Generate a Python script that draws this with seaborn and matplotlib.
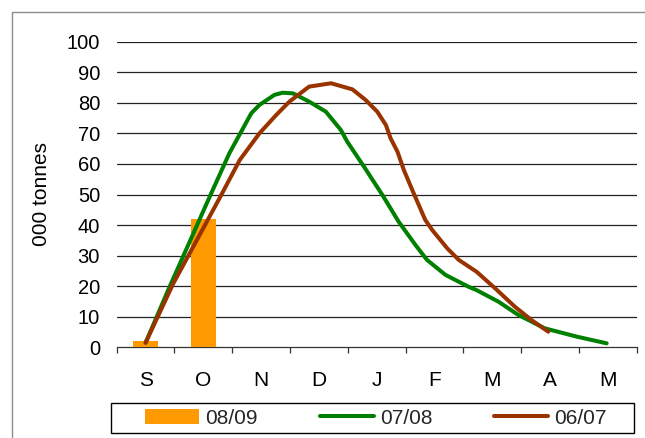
import matplotlib
matplotlib.use("Agg")
import matplotlib.pyplot as plt
import seaborn as sns
import pandas as pd
from matplotlib.patches import Patch, Rectangle
from matplotlib.lines import Line2D

# ---------------- data ----------------
months = ["S", "O", "N", "D", "J", "F", "M", "A", "M "]
month_labels = ["S", "O", "N", "D", "J", "F", "M", "A", "M"]

bar_months = ["S", "O"]
bar_values = [2, 42]          # 08/09

# 07/08 (position in months from S, value)
green_x = [0.0, 0.39, 1.11, 1.45, 1.83, 1.97, 2.23, 2.37, 2.55, 2.83, 3.12, 3.38, 3.49,
           3.78, 4.10, 4.38, 4.67, 4.87, 5.19, 5.59, 5.73, 6.11, 6.45, 6.91, 7.46, 7.98]
green_y = [1.5, 18.7, 49.3, 63.5, 76.6, 79.3, 82.6, 83.3, 83.1, 80.4, 77.1, 71.1, 67.3,
           59.1, 49.8, 41.1, 33.5, 28.6, 23.7, 19.8, 18.7, 14.9, 10.6, 6.2, 3.5, 1.3]

# 06/07
brown_x = [0.0, 0.48, 1.28, 1.63, 1.97, 2.26, 2.49, 2.83, 3.21, 3.58, 3.81, 4.01, 4.16,
           4.24, 4.36, 4.47, 4.64, 4.84, 4.96, 5.22, 5.42, 5.73, 6.05, 6.39, 6.68, 6.97]
brown_y = [1.5, 20.9, 48.8, 61.3, 70.0, 76.0, 80.4, 85.3, 86.4, 84.4, 80.9, 77.1, 72.7,
           68.4, 64.0, 58.0, 50.4, 41.7, 38.4, 32.4, 28.6, 24.7, 19.3, 13.3, 8.9, 5.1]

series_labels = ["08/09", "07/08", "06/07"]
c_bar, c_green, c_brown = "#FF9900", "#008000", "#993300"

# ---------------- figure ----------------
sns.set_theme(style="white")
plt.rcParams["font.family"] = ["Liberation Sans", "DejaVu Sans"]

fig = plt.figure(figsize=(6.45, 4.38), dpi=100)
ax = fig.add_axes([116.7 / 645, 90.7 / 438, 520 / 645, 305.6 / 438])

bar_df = pd.DataFrame({"month": bar_months, "value": bar_values})
sns.barplot(data=bar_df, x="month", y="value", order=months, color=c_bar,
            saturation=1, width=0.43, ax=ax, zorder=3)
for p in ax.patches:
    p.set_edgecolor("none")

sns.lineplot(x=green_x, y=green_y, color=c_green, lw=2.9, ax=ax, zorder=4)
sns.lineplot(x=brown_x, y=brown_y, color=c_brown, lw=2.9, ax=ax, zorder=5)
for ln in ax.lines:
    ln.set_solid_joinstyle("round")
    ln.set_solid_capstyle("round")

ax.set_xlim(-0.5, 8.5)
ax.set_ylim(0, 100)
ax.set_yticks(range(0, 101, 10))
ax.set_xticks(range(9))
ax.set_xticklabels(month_labels)
ax.set_xticks([i - 0.5 for i in range(10)], minor=True)
ax.tick_params(axis="x", which="major", length=0, pad=17, labelsize=15, colors="black")
ax.tick_params(axis="x", which="minor", length=4.5, width=0.9, color="#333333",
               direction="out", bottom=True)
ax.tick_params(axis="y", length=0, pad=12, labelsize=14.5, colors="black")

for v in range(10, 101, 10):
    ax.axhline(v, color="#222222", lw=0.9, zorder=1)

for s in ["left", "right", "top"]:
    ax.spines[s].set_visible(False)
ax.spines["bottom"].set_color("#333333")
ax.spines["bottom"].set_linewidth(0.9)

ax.set_xlabel("")
ax.set_ylabel("000 tonnes", fontsize=15, color="black", labelpad=11)

handles = [Patch(facecolor=c_bar, edgecolor="none"),
           Line2D([], [], color=c_green, lw=2.9),
           Line2D([], [], color=c_brown, lw=2.9)]
leg = fig.legend(handles, series_labels, loc="center",
                 bbox_to_anchor=(376 / 645, 20 / 438),
                 ncol=3, frameon=False, fontsize=15,
                 handlelength=2.6, handletextpad=0.3, columnspacing=2.95,
                 borderpad=0.0, borderaxespad=0)

# legend frame
fig.patches.append(Rectangle((111 / 645, 5 / 438), 523 / 645, 30 / 438,
                             transform=fig.transFigure, fill=False,
                             edgecolor="black", lw=1.0, zorder=0))
# chart-area border
fig.patches.append(Rectangle((12 / 645, -0.1), 1.2, 1 - 12 / 438 + 0.1,
                             transform=fig.transFigure, fill=False,
                             edgecolor="#8c8c8c", lw=1.0, zorder=0))

fig.savefig("out.png", dpi=100)
